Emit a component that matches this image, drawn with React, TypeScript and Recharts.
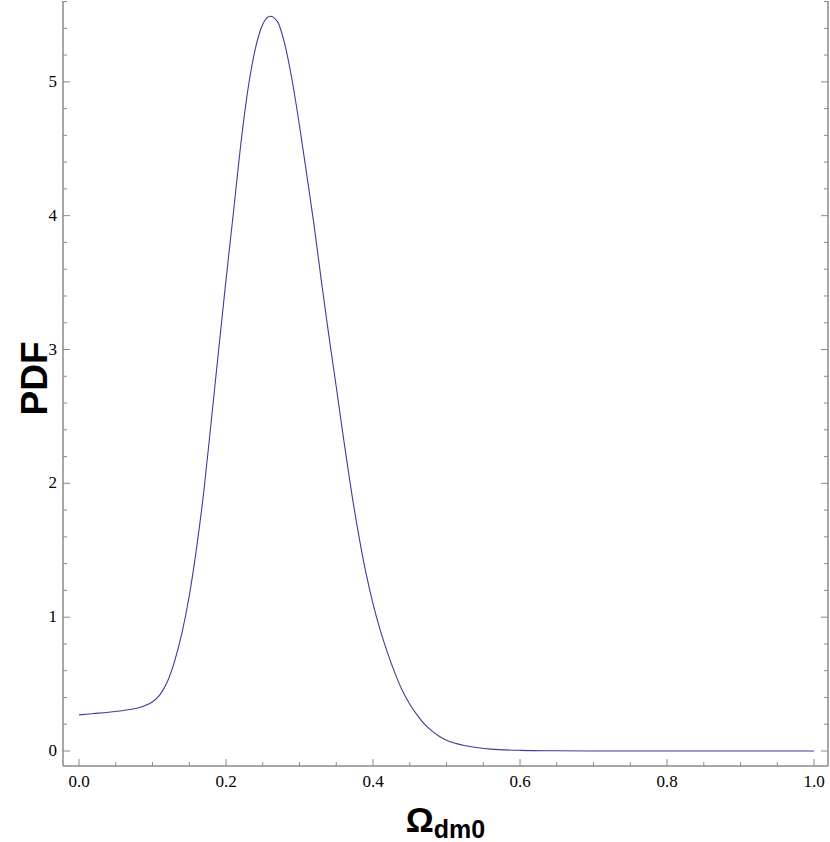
import React from "react";
import { LineChart, Line, XAxis, YAxis, Label } from "recharts";

const omegaValues = [
  0, 0.02, 0.04, 0.06, 0.08, 0.09, 0.1, 0.11, 0.12, 0.13, 0.14, 0.15, 0.16, 0.17, 0.18, 0.19,
  0.2, 0.21, 0.22, 0.23, 0.24, 0.25, 0.26, 0.27, 0.28, 0.29, 0.3, 0.31, 0.32, 0.33, 0.34,
  0.35, 0.36, 0.37, 0.38, 0.39, 0.4, 0.41, 0.42, 0.43, 0.44, 0.45, 0.46, 0.47, 0.48, 0.49,
  0.5, 0.53, 0.56, 0.6, 0.65, 0.7, 0.8, 0.9, 1.0,
];
const pdfValues = [
  0.27, 0.28, 0.29, 0.303, 0.322, 0.34, 0.368, 0.42, 0.515, 0.67, 0.88, 1.16, 1.52, 1.95, 2.47, 3.0,
  3.52, 4.02, 4.53, 4.95, 5.25, 5.43, 5.49, 5.45, 5.28, 5.01, 4.67, 4.3, 3.92, 3.5, 3.1,
  2.72, 2.33, 1.96, 1.63, 1.34, 1.1, 0.9, 0.73, 0.58, 0.45, 0.35, 0.27, 0.2, 0.15, 0.11,
  0.08, 0.035, 0.014, 0.005, 0.002, 0.0005, 0, 0, 0,
];
const xTicks = [
  0, 0.05, 0.1, 0.15, 0.2, 0.25, 0.3, 0.35, 0.4, 0.45, 0.5, 0.55, 0.6, 0.65, 0.7, 0.75, 0.8,
  0.85, 0.9, 0.95, 1.0,
];
const yTicks = [
  0, 0.2, 0.4, 0.6, 0.8, 1, 1.2, 1.4, 1.6, 1.8, 2, 2.2, 2.4, 2.6, 2.8, 3, 3.2, 3.4, 3.6, 3.8, 4,
  4.2, 4.4, 4.6, 4.8, 5, 5.2, 5.4, 5.6,
];
const xMajor = [0, 0.2, 0.4, 0.6, 0.8, 1.0];
const yMajor = [0, 1, 2, 3, 4, 5];

const data = omegaValues.map((x, i) => ({ x, pdf: pdfValues[i] }));

const FRAME = "#8a8a8a";
const LINE = "#3d3d99";
const SERIF = "'Liberation Serif', 'Times New Roman', serif";
const SANS = "'Liberation Sans', Arial, sans-serif";

const isIn = (v: number, arr: number[]) => arr.some((a) => Math.abs(a - v) < 1e-6);

const BottomTick = (p: any) => {
  const { x, y, payload } = p;
  const major = isIn(payload.value, xMajor);
  return (
    <g>
      <line x1={x} x2={x} y1={y} y2={y - (major ? 7 : 4)} stroke={FRAME} strokeWidth={1} />
      {major && (
        <text x={x} y={y + 21} textAnchor="middle" fontFamily={SERIF} fontSize={17} fill="#000">
          {payload.value.toFixed(1)}
        </text>
      )}
    </g>
  );
};
const TopTick = (p: any) => {
  const { x, y, payload } = p;
  const major = isIn(payload.value, xMajor);
  return <line x1={x} x2={x} y1={y} y2={y + (major ? 7 : 4)} stroke={FRAME} strokeWidth={1} />;
};
const LeftTick = (p: any) => {
  const { x, y, payload } = p;
  const major = isIn(payload.value, yMajor);
  return (
    <g>
      <line x1={x} x2={x + (major ? 7 : 4)} y1={y} y2={y} stroke={FRAME} strokeWidth={1} />
      {major && (
        <text x={x - 6} y={y + 5} textAnchor="end" fontFamily={SERIF} fontSize={17} fill="#000">
          {String(payload.value)}
        </text>
      )}
    </g>
  );
};
const RightTick = (p: any) => {
  const { x, y, payload } = p;
  const major = isIn(payload.value, yMajor);
  return <line x1={x} x2={x - (major ? 7 : 4)} y1={y} y2={y} stroke={FRAME} strokeWidth={1} />;
};

const XLabel = (p: any) => {
  const { viewBox } = p;
  const cx = viewBox.x + viewBox.width / 2;
  return (
    <text x={cx} y={viewBox.y + 66} textAnchor="middle" fontFamily={SANS} fontWeight="bold" fill="#000">
      <tspan fontSize={35}>Ω</tspan>
      <tspan fontSize={25} dy={6}>dm0</tspan>
    </text>
  );
};
const YLabel = (p: any) => {
  const { viewBox } = p;
  const cy = viewBox.y + viewBox.height / 2 - 5;
  const lx = 47;
  return (
    <text
      x={lx}
      y={cy}
      textAnchor="middle"
      transform={`rotate(-90, ${lx}, ${cy})`}
      fontFamily={SANS}
      fontWeight="bold"
      fontSize={37}
      fill="#000"
    >
      PDF
    </text>
  );
};

export default function App() {
  return (
    <div style={{ position: "absolute", left: 0, top: 0, width: 830, height: 842, background: "#fff" }}>
      <LineChart width={830} height={842} data={data} margin={{ top: 1, right: 1, bottom: 0, left: 0 }}>
        <XAxis
          xAxisId="b"
          dataKey="x"
          type="number"
          domain={[-0.0218, 1.019]}
          ticks={xTicks}
          interval={0}
          height={76}
          tickSize={0}
          tickMargin={0}
          tickLine={false}
          tick={<BottomTick />}
          axisLine={{ stroke: FRAME, strokeWidth: 1.5 }}
          allowDataOverflow
        >
          <Label content={<XLabel />} />
        </XAxis>
        <XAxis
          xAxisId="t"
          dataKey="x"
          type="number"
          orientation="top"
          domain={[-0.0218, 1.019]}
          ticks={xTicks}
          interval={0}
          height={0}
          tickSize={0}
          tickMargin={0}
          tickLine={false}
          tick={<TopTick />}
          axisLine={{ stroke: FRAME, strokeWidth: 1.5 }}
          allowDataOverflow
        />
        <YAxis
          yAxisId="l"
          type="number"
          domain={[-0.112, 5.604]}
          ticks={yTicks}
          interval={0}
          width={63}
          tickSize={0}
          tickMargin={0}
          tickLine={false}
          tick={<LeftTick />}
          axisLine={{ stroke: FRAME, strokeWidth: 1.5 }}
          allowDataOverflow
        >
          <Label content={<YLabel />} />
        </YAxis>
        <YAxis
          yAxisId="r"
          orientation="right"
          type="number"
          domain={[-0.112, 5.604]}
          ticks={yTicks}
          interval={0}
          width={1}
          tickSize={0}
          tickMargin={0}
          tickLine={false}
          tick={<RightTick />}
          axisLine={{ stroke: FRAME, strokeWidth: 1.5 }}
          allowDataOverflow
        />
        <Line
          xAxisId="b"
          yAxisId="l"
          dataKey="pdf"
          type="monotone"
          stroke={LINE}
          strokeWidth={1.1}
          dot={false}
          isAnimationActive={false}
        />
      </LineChart>
    </div>
  );
}
